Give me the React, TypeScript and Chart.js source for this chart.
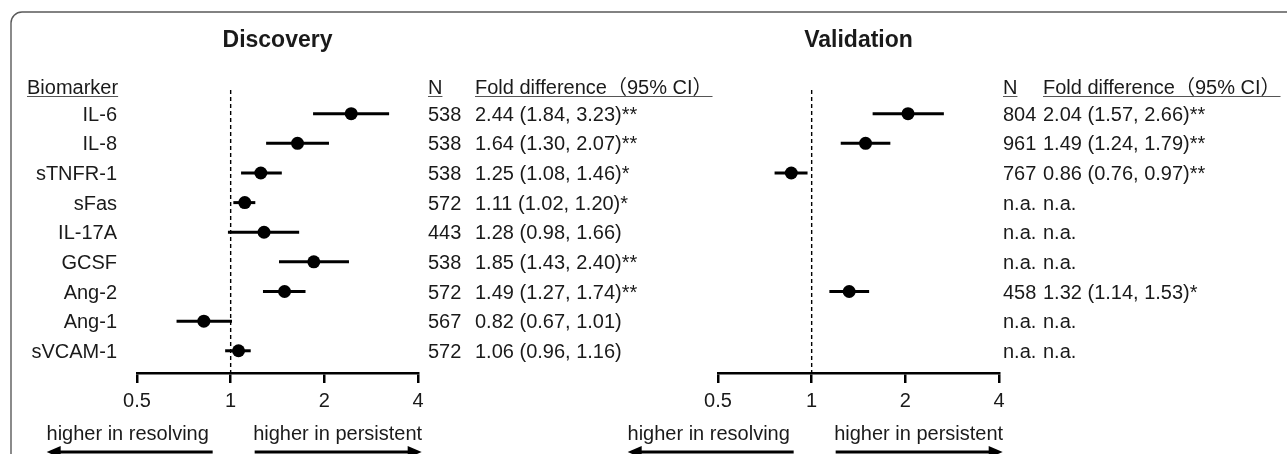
import React, { useEffect, useRef } from "react";
import { Chart, registerables } from "chart.js";

Chart.register(...registerables);

const biomarkers = ["IL-6", "IL-8", "sTNFR-1", "sFas", "IL-17A", "GCSF", "Ang-2", "Ang-1", "sVCAM-1"];

const discN = ["538", "538", "538", "572", "443", "538", "572", "567", "572"];
const discFold = [2.44, 1.64, 1.25, 1.11, 1.28, 1.85, 1.49, 0.82, 1.06];
const discLow = [1.84, 1.3, 1.08, 1.02, 0.98, 1.43, 1.27, 0.67, 0.96];
const discHigh = [3.23, 2.07, 1.46, 1.2, 1.66, 2.4, 1.74, 1.01, 1.16];
const discSig = ["**", "**", "*", "*", "", "**", "**", "", ""];

const valN = ["804", "961", "767", "n.a.", "n.a.", "n.a.", "458", "n.a.", "n.a."];
const valFold: (number | null)[] = [2.04, 1.49, 0.86, null, null, null, 1.32, null, null];
const valLow: (number | null)[] = [1.57, 1.24, 0.76, null, null, null, 1.14, null, null];
const valHigh: (number | null)[] = [2.66, 1.79, 0.97, null, null, null, 1.53, null, null];
const valSig = ["**", "**", "**", "", "", "", "*", "", ""];

const xTicks = [0.5, 1, 2, 4];

const W = 1287;
const H = 454;
const FONT = '"Liberation Sans", Arial, "Noto Sans CJK SC", sans-serif';
const TXT = "#1a1a1a";

type Panel = {
  title: string;
  n: string[];
  fold: (number | null)[];
  low: (number | null)[];
  high: (number | null)[];
  sig: string[];
  padLeft: number;
  padRight: number;
  nX: number;
  foldX: number;
  showLabels: boolean;
  showFrame: boolean;
};

const panels: Panel[] = [
  {
    title: "Discovery",
    n: discN,
    fold: discFold,
    low: discLow,
    high: discHigh,
    sig: discSig,
    padLeft: 137,
    padRight: W - 418,
    nX: 428,
    foldX: 475,
    showLabels: true,
    showFrame: true,
  },
  {
    title: "Validation",
    n: valN,
    fold: valFold,
    low: valLow,
    high: valHigh,
    sig: valSig,
    padLeft: 718,
    padRight: W - 999,
    nX: 1003,
    foldX: 1043,
    showLabels: false,
    showFrame: false,
  },
];

function fmt(v: number) {
  return v.toFixed(2);
}

function underlineText(ctx: CanvasRenderingContext2D, text: string, x: number, y: number) {
  ctx.fillText(text, x, y);
  const w = ctx.measureText(text).width;
  ctx.save();
  ctx.strokeStyle = "#555";
  ctx.lineWidth = 1;
  ctx.beginPath();
  ctx.moveTo(x, y + 2.5);
  ctx.lineTo(x + w, y + 2.5);
  ctx.stroke();
  ctx.restore();
}

function arrow(ctx: CanvasRenderingContext2D, x1: number, x2: number, y: number) {
  const dir = x2 > x1 ? 1 : -1;
  const headLen = 14;
  ctx.save();
  ctx.strokeStyle = "#000";
  ctx.fillStyle = "#000";
  ctx.lineWidth = 3;
  ctx.beginPath();
  ctx.moveTo(x1, y);
  ctx.lineTo(x2 - dir * headLen * 0.6, y);
  ctx.stroke();
  ctx.beginPath();
  ctx.moveTo(x2, y);
  ctx.lineTo(x2 - dir * headLen, y - 6);
  ctx.lineTo(x2 - dir * headLen, y + 6);
  ctx.closePath();
  ctx.fill();
  ctx.restore();
}

function makePlugin(p: Panel) {
  return {
    id: "forestDecor",
    beforeDatasetsDraw(chart: any) {
      const ctx: CanvasRenderingContext2D = chart.ctx;
      const xs = chart.scales.x;
      const ys = chart.scales.y;
      const area = chart.chartArea;
      const x0 = xs.getPixelForValue(1);
      ctx.save();
      ctx.strokeStyle = "#000";
      ctx.lineWidth = 1.4;
      ctx.setLineDash([4, 3]);
      ctx.beginPath();
      ctx.moveTo(x0, area.top);
      ctx.lineTo(x0, area.bottom);
      ctx.stroke();
      ctx.restore();
      ctx.save();
      ctx.strokeStyle = "#000";
      ctx.lineWidth = 3;
      for (let i = 0; i < p.fold.length; i++) {
        const lo = p.low[i];
        const hi = p.high[i];
        if (lo == null || hi == null) continue;
        const y = ys.getPixelForValue(i);
        ctx.beginPath();
        ctx.moveTo(xs.getPixelForValue(lo), y);
        ctx.lineTo(xs.getPixelForValue(hi), y);
        ctx.stroke();
      }
      ctx.restore();
    },
    afterDraw(chart: any) {
      const ctx: CanvasRenderingContext2D = chart.ctx;
      const xs = chart.scales.x;
      const ys = chart.scales.y;
      const area = chart.chartArea;
      const x0 = xs.getPixelForValue(1);
      ctx.save();
      if (p.showFrame) {
        ctx.strokeStyle = "#5a5a5a";
        ctx.lineWidth = 1.4;
        ctx.beginPath();
        ctx.roundRect(11, 12, W + 40, H + 40, 11);
        ctx.stroke();
      }
      ctx.fillStyle = TXT;
      ctx.font = `bold 23px ${FONT}`;
      ctx.textAlign = "center";
      ctx.textBaseline = "alphabetic";
      ctx.fillText(p.title, (area.left + area.right) / 2, 47);

      ctx.font = `20px ${FONT}`;
      const headY = 94;
      ctx.textAlign = "left";
      if (p.showLabels) {
        underlineText(ctx, "Biomarker", 27, headY);
      }
      underlineText(ctx, "N", p.nX, headY);
      underlineText(ctx, "Fold difference（95% CI）", p.foldX, headY);

      for (let i = 0; i < biomarkers.length; i++) {
        const y = ys.getPixelForValue(i) + 7;
        if (p.showLabels) {
          ctx.textAlign = "right";
          ctx.fillText(biomarkers[i], 117, y);
        }
        ctx.textAlign = "left";
        ctx.fillText(p.n[i], p.nX, y);
        const f = p.fold[i];
        const lo = p.low[i];
        const hi = p.high[i];
        const txt = f == null || lo == null || hi == null ? "n.a." : `${fmt(f)} (${fmt(lo)}, ${fmt(hi)})${p.sig[i]}`;
        ctx.fillText(txt, p.foldX, y);
      }

      ctx.textAlign = "center";
      ctx.fillText("higher in resolving", x0 - 103, 440);
      ctx.fillText("higher in persistent", x0 + 107, 440);
      ctx.restore();
      arrow(ctx, x0 - 18, x0 - 184, 452);
      arrow(ctx, x0 + 24, x0 + 191, 452);
    },
  };
}

function ForestPanel({ p }: { p: Panel }) {
  const ref = useRef<HTMLCanvasElement | null>(null);
  useEffect(() => {
    if (!ref.current) return;
    const points = p.fold
      .map((v, i) => (v == null ? null : { x: v, y: i }))
      .filter((d) => d !== null) as { x: number; y: number }[];
    const chart = new Chart(ref.current, {
      type: "scatter",
      data: {
        datasets: [
          {
            data: points,
            pointRadius: 6.5,
            pointHoverRadius: 6.5,
            pointBackgroundColor: "#000",
            pointBorderColor: "#000",
            pointBorderWidth: 0,
          },
        ],
      },
      options: {
        animation: false,
        responsive: false,
        maintainAspectRatio: false,
        events: [],
        layout: { padding: { left: p.padLeft, right: p.padRight, top: 90, bottom: 0 } },
        plugins: { legend: { display: false }, tooltip: { enabled: false }, title: { display: false } },
        scales: {
          x: {
            type: "logarithmic",
            min: 0.5,
            max: 4,
            position: "bottom",
            afterBuildTicks: (s: any) => {
              s.ticks = xTicks.map((v) => ({ value: v }));
            },
            afterFit: (s: any) => {
              s.height = 81;
            },
            grid: {
              drawOnChartArea: false,
              drawTicks: true,
              tickLength: 10,
              color: "#000",
              lineWidth: 2.5,
            },
            border: { display: true, color: "#000", width: 2.5 },
            ticks: {
              autoSkip: false,
              maxRotation: 0,
              color: TXT,
              padding: 6,
              font: { family: FONT, size: 20 },
              callback: (v: any) => String(v),
            },
          },
          y: {
            type: "linear",
            min: -0.8,
            max: 8.75,
            reverse: true,
            display: false,
          },
        },
      },
      plugins: [makePlugin(p)],
    } as any);
    return () => chart.destroy();
  }, [p]);
  return (
    <canvas
      ref={ref}
      width={W}
      height={H}
      style={{ position: "absolute", left: 0, top: 0, width: W, height: H }}
    />
  );
}

export default function App() {
  return (
    <div style={{ position: "absolute", left: 0, top: 0, width: W, height: H, background: "#fff", overflow: "hidden" }}>
      {panels.map((p) => (
        <ForestPanel key={p.title} p={p} />
      ))}
    </div>
  );
}
